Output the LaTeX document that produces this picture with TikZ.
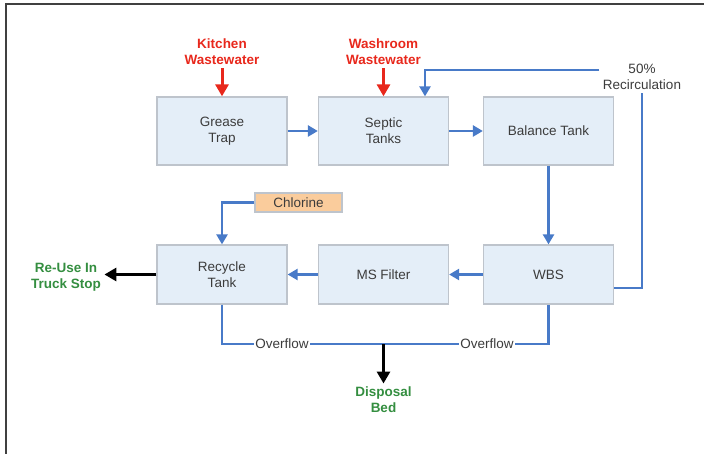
\documentclass[tikz,border=0pt]{standalone}
\usepackage{fontspec}
\setmainfont{Liberation Sans}
\usepackage{tikz}
\usetikzlibrary{arrows.meta}
\definecolor{tankfill}{RGB}{228,238,248}
\definecolor{tankline}{RGB}{190,196,204}
\definecolor{flowblue}{RGB}{72,122,200}
\definecolor{inred}{RGB}{232,40,28}
\definecolor{outgreen}{RGB}{52,142,64}
\definecolor{dosefill}{RGB}{250,204,156}
\definecolor{tanktext}{RGB}{60,60,60}

\begin{document}
\begin{tikzpicture}[x=1pt, y=-1pt]
	\tikzstyle{every node} = [font=\fontsize{13.5}{16}\selectfont, align=center]
	\tikzstyle{tank}      = [rectangle, draw=tankline, line width=1.3pt, fill=tankfill, text=tanktext, minimum width=130pt, inner sep=0pt]
	\tikzstyle{flow}      = [draw=flowblue, line width=2.6pt, -{Triangle[length=10pt,width=11pt]}]
	\tikzstyle{feed}      = [draw=inred, line width=3pt, -{Triangle[length=12pt,width=13pt]}]
	\tikzstyle{discharge} = [draw=black, line width=3pt, -{Triangle[length=12pt,width=13pt]}]
	\tikzstyle{source}    = [text=inred, font=\fontsize{13.5}{16}\selectfont\bfseries]
	\tikzstyle{sink}      = [text=outgreen, font=\fontsize{13.5}{16}\selectfont\bfseries]
	\useasboundingbox (0,0) rectangle (704,454);
	\draw [line width=1.5pt, draw=black!75] (6,4) rectangle (720,470);
	% top row
	\node [tank, minimum height=68pt] (grease)   at (222,131)   {Grease\\Trap};
	\node [tank, minimum height=68pt] (septic)   at (383.5,131) {Septic\\Tanks};
	\node [tank, minimum height=68pt] (balance)  at (548.5,131) {Balance Tank};
	% bottom row
	\node [tank, minimum height=59pt] (recycle)  at (222,274.5)   {Recycle\\Tank};
	\node [tank, minimum height=59pt] (msfilter) at (383.5,274.5) {MS Filter};
	\node [tank, minimum height=59pt] (wbs)      at (548.5,274.5) {WBS};
	\node [rectangle, draw=tankline, line width=1.3pt, fill=dosefill, text=tanktext, minimum width=87pt, minimum height=19pt, inner sep=0pt] (chlorine) at (298.5,202.5) {Chlorine};
	% inlets and outlets
	\node [source] (kitchen)  at (222,52)   {Kitchen\\Wastewater};
	\node [source] (washroom) at (383.5,52) {Washroom\\Wastewater};
	\node [sink]   (reuse)    at (66,277)   {Re-Use In\\Truck Stop};
	\node [sink]   (disposal) at (383.5,400) {Disposal\\Bed};
	\node [text=tanktext] (recirc) at (642,77) {50\%\\Recirculation};
	\coordinate (ovl) at (222,344);
	\coordinate (ovm) at (383.5,344);
	\coordinate (ovr) at (548.5,344);
	\draw [feed] (kitchen)  -- (grease);
	\draw [feed] (washroom) -- (septic);
	\draw [flow] (grease)   -- (septic);
	\draw [flow] (septic)   -- (balance);
	\draw [flow] (balance)  -- (wbs);
	\draw [flow] (wbs)      -- (msfilter);
	\draw [flow] (msfilter) -- (recycle);
	\draw [flow] (chlorine.west) -| (recycle.north);
	\draw [flow] ([yshift=7pt]recirc.west) -| ([xshift=41.5pt]septic.north);
	\draw [draw=flowblue, line width=2.6pt] ([yshift=-13.5pt]wbs.east) -| (recirc.south);
	\draw [draw=flowblue, line width=2.6pt] (recycle.south) -- (ovl) -- (ovr) -- (wbs.south);
	\node [fill=white, inner sep=1pt, text=tanktext] (ovlabel1) at (282,344) {Overflow};
	\node [fill=white, inner sep=1pt, text=tanktext] (ovlabel2) at (487,344) {Overflow};
	\draw [discharge] (recycle.west) -- (reuse.east |- recycle.west);
	\draw [discharge] (ovm) -- (disposal);
\end{tikzpicture}
\end{document}
